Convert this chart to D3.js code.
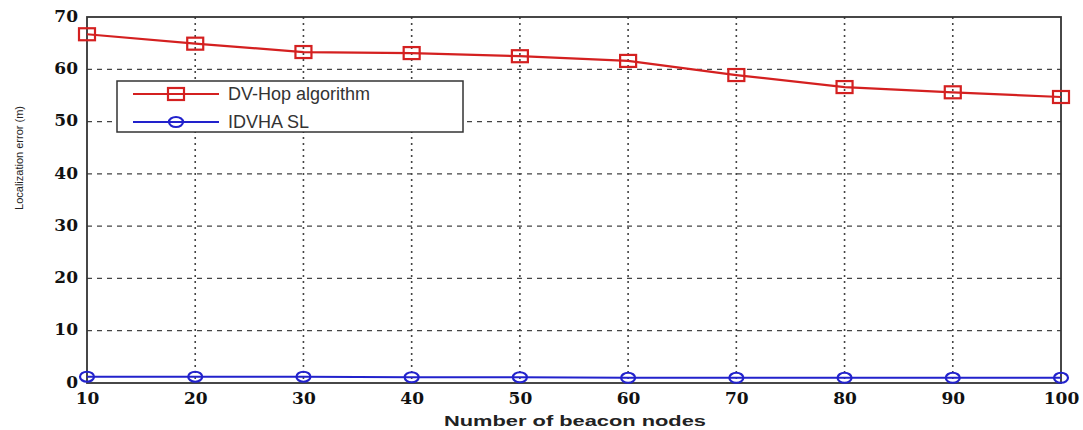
<!DOCTYPE html>
<html><head><meta charset="utf-8">
<script src="https://cdn.jsdelivr.net/npm/d3@7"></script>
<style>body{margin:0;background:#fff}svg{display:block}</style>
</head><body>
<svg id="c" width="1083" height="430"></svg>
<script>
const beacons = [10,20,30,40,50,60,70,80,90,100];
const dvhop = [66.7,64.9,63.3,63.1,62.5,61.6,58.9,56.6,55.6,54.7];
const idvha = [1.2,1.2,1.2,1.1,1.1,1.0,1.0,1.0,1.0,1.0];
const xTicks = [10,20,30,40,50,60,70,80,90,100];
const yTicks = [0,10,20,30,40,50,60,70];
const seriesNames = ["DV-Hop algorithm","IDVHA SL"];

const svg = d3.select("#c");
const m = {l:87, r:1061, t:17, b:383};
const x = d3.scaleLinear().domain([10,100]).range([m.l,m.r]);
const y = d3.scaleLinear().domain([0,70]).range([m.b,m.t]);
const grid = "#444";

// grid
svg.append("g").selectAll("line").data(yTicks.slice(1,-1)).join("line")
  .attr("x1",m.l).attr("x2",m.r).attr("y1",d=>y(d)).attr("y2",d=>y(d))
  .attr("stroke",grid).attr("stroke-width",1.3).attr("stroke-dasharray","5,5");
svg.append("g").selectAll("line").data(xTicks.slice(1,-1)).join("line")
  .attr("y1",m.t).attr("y2",m.b).attr("x1",d=>x(d)).attr("x2",d=>x(d))
  .attr("stroke",grid).attr("stroke-width",1.6).attr("stroke-dasharray","2,4");

// box
svg.append("rect").attr("x",m.l).attr("y",m.t).attr("width",m.r-m.l).attr("height",m.b-m.t)
  .attr("fill","none").attr("stroke","#333").attr("stroke-width",1.8);

// axes labels
const xa = d3.axisBottom(x).tickValues(xTicks).tickSize(0).tickPadding(9);
svg.append("g").attr("transform",`translate(0,${m.b})`).call(xa)
  .call(g=>g.select(".domain").remove())
  .selectAll("text").attr("font-family","'DejaVu Serif',serif").attr("font-weight","bold")
  .attr("font-size",17).attr("fill","#111");
const ya = d3.axisLeft(y).tickValues(yTicks).tickSize(0).tickPadding(9);
svg.append("g").attr("transform",`translate(${m.l},0)`).call(ya)
  .call(g=>g.select(".domain").remove())
  .selectAll("text").attr("font-family","'DejaVu Serif',serif").attr("font-weight","bold")
  .attr("font-size",17).attr("fill","#111").attr("dy","0.25em");

svg.append("text").attr("x",575).attr("y",426).attr("text-anchor","middle")
  .attr("font-family","'Liberation Sans',Arial,sans-serif").attr("font-weight","bold")
  .attr("font-size",15).attr("textLength",262).attr("lengthAdjust","spacingAndGlyphs")
  .attr("fill","#222").text("Number of beacon nodes");
svg.append("text").attr("transform","translate(23,158) rotate(-90)").attr("text-anchor","middle")
  .attr("font-family","'Liberation Sans',Arial,sans-serif")
  .attr("font-size",11).attr("fill","#222").text("Localization error (m)");

// series
const line = d3.line().x((d,i)=>x(beacons[i])).y(d=>y(d));
function sqMarker(g,cx,cy){
  g.append("rect").attr("x",cx-8).attr("y",cy-6).attr("width",16).attr("height",12)
   .attr("fill","none").attr("stroke","#d42020").attr("stroke-width",2.2);
}
function circMarker(g,cx,cy){
  g.append("ellipse").attr("cx",cx).attr("cy",cy).attr("rx",7).attr("ry",5)
   .attr("fill","none").attr("stroke","#2222cc").attr("stroke-width",2.2);
}
svg.append("path").datum(dvhop).attr("d",line).attr("fill","none").attr("stroke","#d42020").attr("stroke-width",2.2);
const gd = svg.append("g");
dvhop.forEach((v,i)=>sqMarker(gd,x(beacons[i]),y(v)));
svg.append("path").datum(idvha).attr("d",line).attr("fill","none").attr("stroke","#2222cc").attr("stroke-width",2.2);
const gi = svg.append("g");
idvha.forEach((v,i)=>circMarker(gi,x(beacons[i]),y(v)));

// legend
const lg = svg.append("g");
lg.append("rect").attr("x",117).attr("y",81).attr("width",346).attr("height",51)
  .attr("fill","#fff").attr("stroke","#333").attr("stroke-width",1.5);
const ly = [94,122];
lg.append("line").attr("x1",133).attr("x2",219).attr("y1",ly[0]).attr("y2",ly[0]).attr("stroke","#d42020").attr("stroke-width",2.2);
sqMarker(lg,176,ly[0]);
lg.append("line").attr("x1",133).attr("x2",219).attr("y1",ly[1]).attr("y2",ly[1]).attr("stroke","#2222cc").attr("stroke-width",2.2);
circMarker(lg,176,ly[1]);
seriesNames.forEach((n,i)=>lg.append("text").attr("x",228).attr("y",ly[i]+6)
  .attr("font-family","'Liberation Sans',Arial,sans-serif").attr("font-size",18).attr("fill","#333").text(n));
</script>
</body></html>
